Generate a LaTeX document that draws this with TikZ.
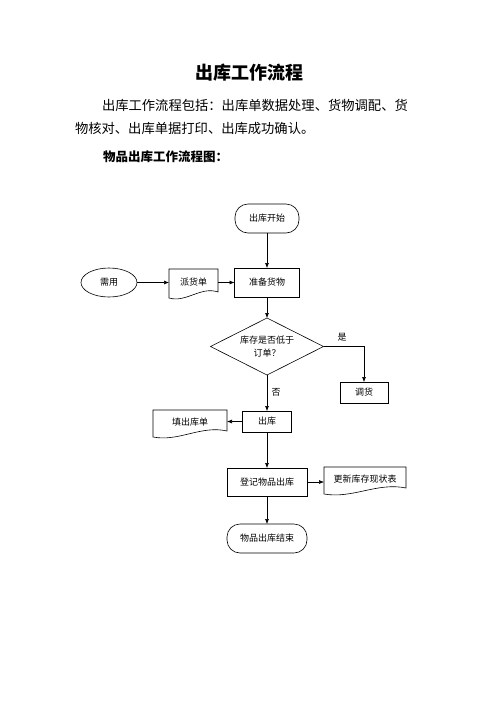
\documentclass[tikz,border=0pt]{standalone}
\usepackage{fontspec}
\setmainfont{Noto Sans CJK SC}
\usetikzlibrary{shapes.geometric,arrows.meta,calc}
\newcommand\fsz[1]{\fontsize{#1}{#1}\selectfont}
\newcommand\docpath[1]{%
  \draw (#1.north west) -- (#1.north east) -- ($(#1.south east)+(0,-3)$)
    .. controls ($(#1.south west)!0.65!(#1.south east)+(0,-9)$) and ($(#1.south west)!0.35!(#1.south east)+(0,8)$)
    .. ($(#1.south west)+(0,3)$) -- cycle;}
\begin{document}
\begin{tikzpicture}[x=1pt,y=-1pt,line width=0.6pt,
  every node/.style={inner sep=0pt,outer sep=0pt},
  box/.style={draw,rectangle,font=\fsz{9}},
  term/.style={draw,rectangle,rounded corners=13pt,font=\fsz{9}},
  oval/.style={draw,ellipse,font=\fsz{9}},
  docnode/.style={rectangle,font=\fsz{9}},
  lbl/.style={font=\fsz{9}},
  arr/.style={-{Latex[length=5pt,width=4pt]}}]
\useasboundingbox (0,0) rectangle (496,702);
\fill[white] (0,0) rectangle (496,702);
% text
\node[font=\fsz{18}\bfseries] (title) at (249,73) {出库工作流程};
\node[anchor=west,font=\fsz{13.3}] (p1) at (102,105) {出库工作流程包括：出库单数据处理、货物调配、货};
\node[anchor=west,font=\fsz{13.3}] (p2) at (75,128) {物核对、出库单据打印、出库成功确认。};
\node[anchor=west,font=\fsz{12.5}\bfseries] (h1) at (103,157) {物品出库工作流程图：};
% nodes
\node[term,minimum width=64pt,minimum height=29pt] (start) at (267,218.5) {出库开始};
\node[box,minimum width=65pt,minimum height=29pt] (prep) at (267,282.5) {准备货物};
\node[oval,minimum width=56pt,minimum height=29pt] (need) at (109,282.5) {需用};
\node[docnode,minimum width=49pt,minimum height=26pt] (pai) at (193.5,282) {派货单};
\docpath{pai}
\node[rectangle,minimum width=113pt,minimum height=57pt,align=center,font=\fsz{9}] (dec) at (267,346.5) {\\[-2pt]库存是否低于\\[4pt]订单？};
\draw (dec.north) -- (dec.east) -- (dec.south) -- (dec.west) -- cycle;
\node[box,minimum width=48pt,minimum height=21pt] (diao) at (364,392.5) {调货};
\node[box,minimum width=49pt,minimum height=21pt] (ck) at (267,421.5) {出库};
\node[docnode,minimum width=74pt,minimum height=24pt] (fill) at (190,422) {填出库单};
\docpath{fill}
\node[box,minimum width=80pt,minimum height=28pt] (dj) at (267,482) {登记物品出库};
\node[docnode,minimum width=82pt,minimum height=24pt] (gx) at (365,479) {更新库存现状表};
\docpath{gx}
\node[term,minimum width=80pt,minimum height=29pt] (end) at (267,538.5) {物品出库结束};
\node[lbl] (yes) at (342,337) {是};
\node[lbl] (no) at (276,392) {否};
% connectors
\draw[arr] (start) -- (prep);
\draw[arr] (need.east) -- (need.east -| pai.west);
\draw[arr] (pai.east |- prep.west) -- (prep.west);
\draw[arr] (prep) -- (dec.north);
\draw[arr] (dec.east) -| (diao.north);
\draw[arr] (dec.south) -- (ck.north);
\draw[arr] (ck.west) -- (ck.west -| fill.east);
\draw[arr] (ck) -- (dj);
\draw[arr] (dj.east) -- (dj.east -| gx.west);
\draw[arr] (dj) -- (end);
\end{tikzpicture}
\end{document}
